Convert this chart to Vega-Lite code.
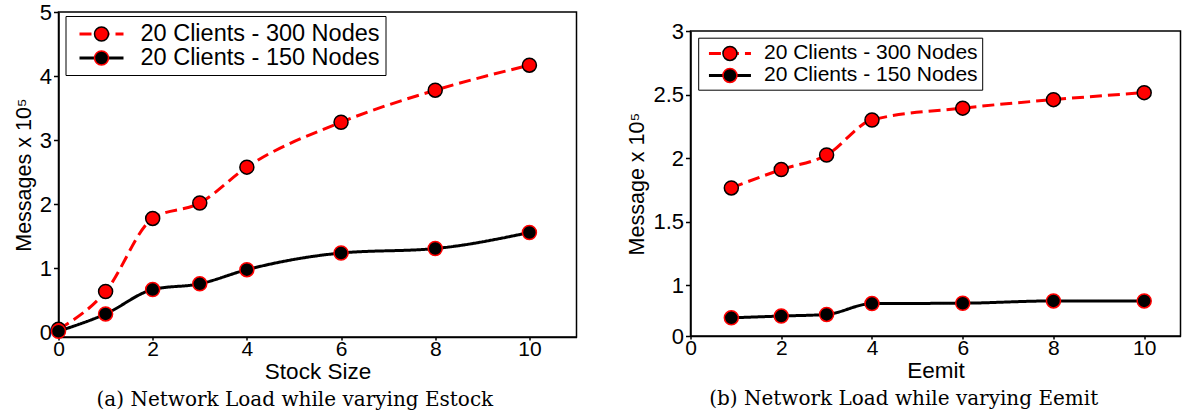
{
  "$schema": "https://vega.github.io/schema/vega-lite/v6.json",
  "padding": {"left": 12.5, "top": 0, "right": 2, "bottom": 0},
  "spacing": 48,
  "config": {
    "font": "Liberation Sans",
    "view": {"stroke": "black", "strokeWidth": 1.5},
    "axis": {"domainColor": "black", "domainWidth": 1.5, "tickColor": "black", "tickWidth": 1.5, "tickSize": 5, "labelColor": "black", "titleColor": "black", "grid": false, "labelFontSize": 22, "titleFontSize": 21.5, "titleFontWeight": "normal", "labelFont": "Liberation Sans", "titleFont": "Liberation Sans", "labelPadding": 2, "labelFlush": false},
    "axisX": {"tickSize": 3, "labelFontSize": 21, "titleFontSize": 22.5, "labelPadding": -2, "titlePadding": 1},
    "title": {"font": "DejaVu Serif", "fontSize": 20, "fontWeight": "normal", "color": "black", "orient": "bottom", "anchor": "middle", "frame": "bounds", "offset": 7}
  },
  "datasets": {
    "stock": [
      {"series": "20 Clients - 300 Nodes", "x": 0, "y": 0.05},
      {"series": "20 Clients - 300 Nodes", "x": 1, "y": 0.64},
      {"series": "20 Clients - 300 Nodes", "x": 2, "y": 1.78},
      {"series": "20 Clients - 300 Nodes", "x": 3, "y": 2.02},
      {"series": "20 Clients - 300 Nodes", "x": 4, "y": 2.58},
      {"series": "20 Clients - 300 Nodes", "x": 6, "y": 3.28},
      {"series": "20 Clients - 300 Nodes", "x": 8, "y": 3.78},
      {"series": "20 Clients - 300 Nodes", "x": 10, "y": 4.17},
      {"series": "20 Clients - 150 Nodes", "x": 0, "y": 0.02},
      {"series": "20 Clients - 150 Nodes", "x": 1, "y": 0.29},
      {"series": "20 Clients - 150 Nodes", "x": 2, "y": 0.67},
      {"series": "20 Clients - 150 Nodes", "x": 3, "y": 0.76},
      {"series": "20 Clients - 150 Nodes", "x": 4, "y": 0.98},
      {"series": "20 Clients - 150 Nodes", "x": 6, "y": 1.24},
      {"series": "20 Clients - 150 Nodes", "x": 8, "y": 1.31},
      {"series": "20 Clients - 150 Nodes", "x": 10, "y": 1.56}
    ],
    "emit": [
      {"series": "20 Clients - 300 Nodes", "x": 0.9, "y": 1.765},
      {"series": "20 Clients - 300 Nodes", "x": 2, "y": 1.91},
      {"series": "20 Clients - 300 Nodes", "x": 3, "y": 2.024},
      {"series": "20 Clients - 300 Nodes", "x": 4, "y": 2.3},
      {"series": "20 Clients - 300 Nodes", "x": 6, "y": 2.393},
      {"series": "20 Clients - 300 Nodes", "x": 8, "y": 2.46},
      {"series": "20 Clients - 300 Nodes", "x": 10, "y": 2.515},
      {"series": "20 Clients - 150 Nodes", "x": 0.9, "y": 0.743},
      {"series": "20 Clients - 150 Nodes", "x": 2, "y": 0.757},
      {"series": "20 Clients - 150 Nodes", "x": 3, "y": 0.77},
      {"series": "20 Clients - 150 Nodes", "x": 4, "y": 0.855},
      {"series": "20 Clients - 150 Nodes", "x": 6, "y": 0.858},
      {"series": "20 Clients - 150 Nodes", "x": 8, "y": 0.876},
      {"series": "20 Clients - 150 Nodes", "x": 10, "y": 0.876}
    ]
  },
  "hconcat": [
    {
      "width": 518,
      "height": 325,
      "title": {"text": "(a) Network Load while varying Estock"},
      "data": {"name": "stock"},
      "layer": [
        {
          "mark": {"type": "line", "interpolate": "monotone", "strokeWidth": 3},
          "encoding": {
            "x": {"field": "x", "type": "quantitative", "scale": {"domain": [0, 11], "nice": false, "zero": false}, "axis": {"orient": "bottom", "values": [0, 2, 4, 6, 8, 10], "title": "Stock Size"}},
            "y": {"field": "y", "type": "quantitative", "scale": {"domain": [-0.07, 5], "nice": false, "zero": false}, "axis": {"orient": "left", "values": [0, 1, 2, 3, 4, 5], "title": "Messages x 10⁵", "titlePadding": 4}},
            "stroke": {"field": "series", "type": "nominal", "scale": {"domain": ["20 Clients - 300 Nodes", "20 Clients - 150 Nodes"], "range": ["#ff0000", "#000000"]},
              "legend": {"orient": "none", "legendX": 7, "legendY": 4, "title": null, "strokeColor": "black", "fillColor": "white", "padding": 5.5, "cornerRadius": 0, "symbolType": "M-2,0H2", "symbolSize": 484, "symbolStrokeWidth": 3, "symbolOffset": 18, "labelOffset": 26.5, "labelFontSize": 23.5, "labelLimit": 500, "rowPadding": -2}},
            "strokeDash": {"field": "series", "type": "nominal", "scale": {"domain": ["20 Clients - 300 Nodes", "20 Clients - 150 Nodes"], "range": [[12, 6], [1, 0]]},
              "legend": {"orient": "none", "legendX": 7, "legendY": 4, "title": null, "strokeColor": "black", "fillColor": "white", "padding": 5.5, "cornerRadius": 0, "symbolType": "M-2,0H2", "symbolSize": 484, "symbolStrokeWidth": 3, "symbolOffset": 18, "labelOffset": 26.5, "labelFontSize": 23.5, "labelLimit": 500, "rowPadding": -2}}
          }
        },
        {
          "mark": {"type": "point", "shape": "circle", "filled": true, "size": 196, "strokeWidth": 1.5, "opacity": 1},
          "encoding": {
            "x": {"field": "x", "type": "quantitative", "axis": {"orient": "bottom", "values": [0, 2, 4, 6, 8, 10], "title": "Stock Size"}},
            "y": {"field": "y", "type": "quantitative", "axis": {"orient": "left", "values": [0, 1, 2, 3, 4, 5], "title": "Messages x 10⁵", "titlePadding": 4}},
            "fill": {"field": "series", "type": "nominal", "scale": {"domain": ["20 Clients - 300 Nodes", "20 Clients - 150 Nodes"], "range": ["#ff0000", "#000000"]},
              "legend": {"orient": "none", "legendX": 7, "legendY": 4, "title": null, "padding": 5.5, "symbolType": "M-0.5957,0A0.5957,0.5957,0,1,1,0.5957,0A0.5957,0.5957,0,1,1,-0.5957,0Z", "symbolSize": 552.25, "symbolStrokeWidth": 1.5, "symbolOffset": 18, "labelOffset": 26.5, "labelExpr": "''", "labelFontSize": 23.5, "rowPadding": -2}},
            "stroke": {"field": "series", "type": "nominal", "scale": {"domain": ["20 Clients - 300 Nodes", "20 Clients - 150 Nodes"], "range": ["#000000", "#ff0000"]},
              "legend": {"orient": "none", "legendX": 7, "legendY": 4, "title": null, "padding": 5.5, "symbolType": "M-0.5957,0A0.5957,0.5957,0,1,1,0.5957,0A0.5957,0.5957,0,1,1,-0.5957,0Z", "symbolSize": 552.25, "symbolStrokeWidth": 1.5, "symbolOffset": 18, "labelOffset": 26.5, "labelExpr": "''", "labelFontSize": 23.5, "rowPadding": -2}}
          }
        }
      ],
      "resolve": {"scale": {"stroke": "independent", "fill": "independent", "strokeDash": "independent"}}
    },
    {
      "spacing": 6,
      "vconcat": [
        {
          "width": 490,
          "height": 1,
          "data": {"values": []},
          "mark": "point",
          "encoding": {},
          "view": {"stroke": null}
        },
        {
          "width": 490,
          "height": 305,
          "title": {"text": "(b) Network Load while varying Eemit"},
          "data": {"name": "emit"},
          "layer": [
            {
              "mark": {"type": "line", "interpolate": "monotone", "strokeWidth": 3},
              "encoding": {
                "x": {"field": "x", "type": "quantitative", "scale": {"domain": [0, 10.8], "nice": false, "zero": false}, "axis": {"orient": "bottom", "values": [0, 2, 4, 6, 8, 10], "title": "Eemit"}},
                "y": {"field": "y", "type": "quantitative", "scale": {"domain": [0.6, 3], "nice": false, "zero": false}, "axis": {"orient": "left", "values": [0.6, 1, 1.5, 2, 2.5, 3], "labelExpr": "datum.value < 0.7 ? '0' : format(datum.value, '~g')", "title": "Message x 10⁵", "titlePadding": 4}},
                "stroke": {"field": "series", "type": "nominal", "scale": {"domain": ["20 Clients - 300 Nodes", "20 Clients - 150 Nodes"], "range": ["#ff0000", "#000000"]},
                  "legend": {"orient": "none", "legendX": 7.7, "legendY": 6.7, "title": null, "strokeColor": "black", "fillColor": "white", "padding": 3.75, "cornerRadius": 0, "symbolType": "M-2,0H2", "symbolSize": 441, "symbolStrokeWidth": 3, "symbolOffset": 16, "labelOffset": 22, "labelFontSize": 21, "labelLimit": 500, "rowPadding": -2.5}},
                "strokeDash": {"field": "series", "type": "nominal", "scale": {"domain": ["20 Clients - 300 Nodes", "20 Clients - 150 Nodes"], "range": [[12, 6], [1, 0]]},
                  "legend": {"orient": "none", "legendX": 7.7, "legendY": 6.7, "title": null, "strokeColor": "black", "fillColor": "white", "padding": 3.75, "cornerRadius": 0, "symbolType": "M-2,0H2", "symbolSize": 441, "symbolStrokeWidth": 3, "symbolOffset": 16, "labelOffset": 22, "labelFontSize": 21, "labelLimit": 500, "rowPadding": -2.5}}
              }
            },
            {
              "mark": {"type": "point", "shape": "circle", "filled": true, "size": 196, "strokeWidth": 1.5, "opacity": 1},
              "encoding": {
                "x": {"field": "x", "type": "quantitative", "axis": {"orient": "bottom", "values": [0, 2, 4, 6, 8, 10], "title": "Eemit"}},
                "y": {"field": "y", "type": "quantitative", "axis": {"orient": "left", "values": [0.6, 1, 1.5, 2, 2.5, 3], "labelExpr": "datum.value < 0.7 ? '0' : format(datum.value, '~g')", "title": "Message x 10⁵", "titlePadding": 4}},
                "fill": {"field": "series", "type": "nominal", "scale": {"domain": ["20 Clients - 300 Nodes", "20 Clients - 150 Nodes"], "range": ["#ff0000", "#000000"]},
                  "legend": {"orient": "none", "legendX": 7.7, "legendY": 6.7, "title": null, "padding": 3.75, "symbolType": "M-0.6222,0A0.6222,0.6222,0,1,1,0.6222,0A0.6222,0.6222,0,1,1,-0.6222,0Z", "symbolSize": 506.25, "symbolStrokeWidth": 1.5, "symbolOffset": 16, "labelOffset": 22, "labelExpr": "''", "labelFontSize": 21, "rowPadding": -2.5}},
                "stroke": {"field": "series", "type": "nominal", "scale": {"domain": ["20 Clients - 300 Nodes", "20 Clients - 150 Nodes"], "range": ["#000000", "#ff0000"]},
                  "legend": {"orient": "none", "legendX": 7.7, "legendY": 6.7, "title": null, "padding": 3.75, "symbolType": "M-0.6222,0A0.6222,0.6222,0,1,1,0.6222,0A0.6222,0.6222,0,1,1,-0.6222,0Z", "symbolSize": 506.25, "symbolStrokeWidth": 1.5, "symbolOffset": 16, "labelOffset": 22, "labelExpr": "''", "labelFontSize": 21, "rowPadding": -2.5}}
              }
            }
          ],
          "resolve": {"scale": {"stroke": "independent", "fill": "independent", "strokeDash": "independent"}}
        }
      ]
    }
  ]
}
